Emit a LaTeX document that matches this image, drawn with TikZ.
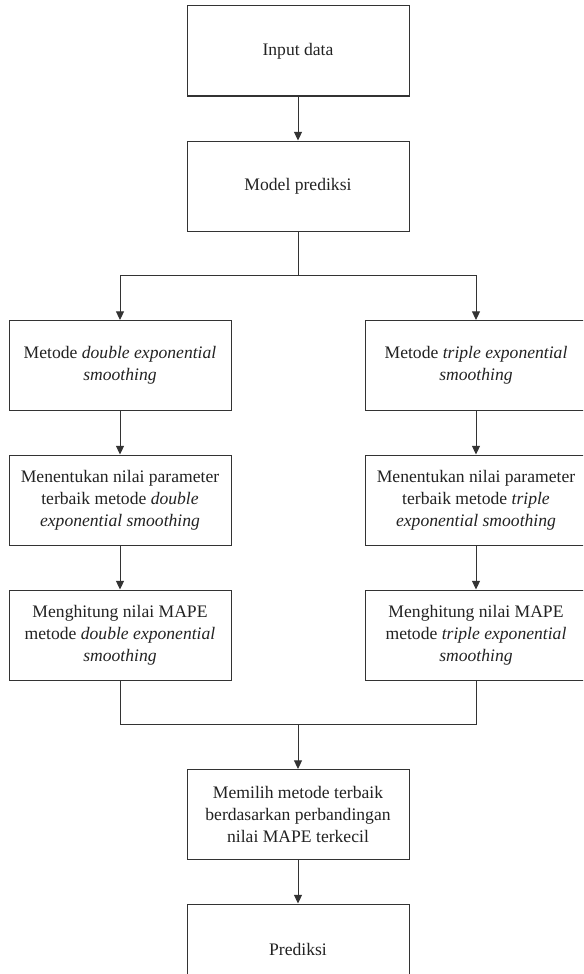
\documentclass[tikz,border=0pt]{standalone}
\usepackage{fontspec}
\setmainfont{Liberation Serif}
\usetikzlibrary{arrows.meta}
\definecolor{linec}{HTML}{333333}
\definecolor{textc}{HTML}{222222}
\begin{document}
\begin{tikzpicture}[x=0.75pt,y=-0.75pt,
  box/.style={draw=linec, line width=0.75pt, minimum width=166.5pt, minimum height=67.5pt, inner sep=0pt, align=center, text=textc, font=\fontsize{13.2pt}{16.5pt}\selectfont},
  conn/.style={draw=linec, line width=0.75pt},
  arr/.style={conn, -{Triangle[width=6pt,length=6.5pt]}}]
\useasboundingbox (0,0) rectangle (583,974);
\clip (0,0) rectangle (583,974);
\node[box] (input) at (298,51) {Input data};
\node[box] (model) at (298,186) {Model prediksi};
\node[box] (L1) at (120,365.5) {Metode \textit{double exponential}\\\textit{smoothing}};
\node[box] (L2) at (120,500) {Menentukan nilai parameter\\terbaik metode \textit{double}\\\textit{exponential smoothing}};
\node[box] (L3) at (120,635) {Menghitung nilai MAPE\\metode \textit{double exponential}\\\textit{smoothing}};
\node[box] (R1) at (476,365.5) {Metode \textit{triple exponential}\\\textit{smoothing}};
\node[box] (R2) at (476,500) {Menentukan nilai parameter\\terbaik metode \textit{triple}\\\textit{exponential smoothing}};
\node[box] (R3) at (476,635) {Menghitung nilai MAPE\\metode \textit{triple exponential}\\\textit{smoothing}};
\node[box] (pick) at (298,814.5) {Memilih metode terbaik\\berdasarkan perbandingan\\nilai MAPE terkecil};
\node[box] (pred) at (298,949) {Prediksi};
\coordinate (split) at (298,275.5);
\coordinate (merge) at (298,724);
\draw[arr] (input) -- (model);
\draw[conn] (model.south) -- (split);
\draw[arr] (split) -| (L1.north);
\draw[arr] (split) -| (R1.north);
\draw[arr] (L1) -- (L2);
\draw[arr] (L2) -- (L3);
\draw[arr] (R1) -- (R2);
\draw[arr] (R2) -- (R3);
\draw[conn] (L3.south) |- (merge);
\draw[conn] (R3.south) |- (merge);
\draw[arr] (merge) -- (pick);
\draw[arr] (pick) -- (pred);
\end{tikzpicture}
\end{document}
